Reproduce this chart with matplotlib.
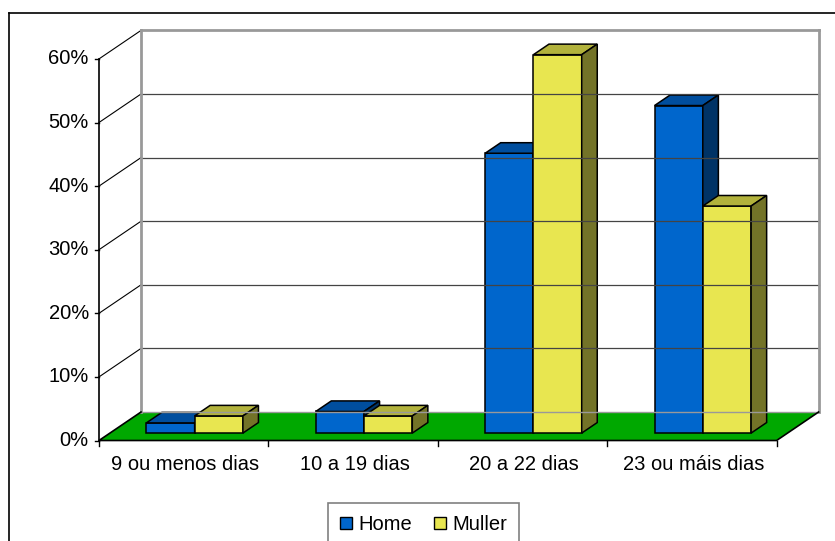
import matplotlib
matplotlib.use("Agg")
import matplotlib.pyplot as plt
from matplotlib.patches import Polygon, Patch
from matplotlib.lines import Line2D

plt.rcParams["font.family"] = ["Liberation Sans", "DejaVu Sans"]

# data (percent)
categories = ["9 ou menos dias", "10 a 19 dias", "20 a 22 dias", "23 ou máis dias"]
series = ["Home", "Muller"]
home = [1.6, 3.4, 44.0, 51.5]
muller = [2.7, 2.7, 59.5, 35.7]
y_ticks = [0, 10, 20, 30, 40, 50, 60]

# colours: front, top, side
face_cols = {
	"Home": ("#0066CC", "#004E9E", "#003366"),
	"Muller": ("#E8E650", "#B2B23C", "#737328"),
}
floor_col = "#00A800"
wall_col = "#999999"

# pseudo-3d geometry (category units / percent units)
DX, DY = 0.248, 4.48       # full depth offset of the walls
D0, D1 = 0.26, 0.63        # bar depth range (fraction of the wall depth)
BW = 0.285                 # bar width per series
FS = 14.5

W, H, DPI = 835, 541, 100
fig = plt.figure(figsize=(W / DPI, H / DPI), dpi=DPI)
ax = fig.add_axes([0, 0, 1, 1])
ax.set_xlim(-99 / 169.4, (W - 99) / 169.4)
ax.set_ylim(-(H - 440.5) / 6.36, 440.5 / 6.36)
ax.axis("off")

n = len(categories)
top = y_ticks[-1]


def proj(x, v, d):
	return x + d * DX, v + d * DY


# side wall gridlines and back wall gridlines
for v in y_ticks[1:]:
	x0, y0 = proj(0, v, 0)
	x1, y1 = proj(0, v, 1)
	ax.plot([x0, x1], [y0, y1], c="black", lw=0.8)
	x2, y2 = proj(n, v, 1)
	if v == top:
		ax.plot([x1, x2], [y1, y2], c=wall_col, lw=2)
	else:
		ax.plot([x1, x2], [y1, y2], c="#444444", lw=0.9)

# back wall vertical edges
for xe in [0, n]:
	xa, ya = proj(xe, 0, 1)
	xb, yb = proj(xe, top, 1)
	ax.plot([xa, xb], [ya, yb], c=wall_col, lw=2)

# floor
floor = [proj(0, 0, 0), proj(n, 0, 0), proj(n, 0, 1), proj(0, 0, 1)]
ax.add_patch(Polygon(floor, closed=True, fc=floor_col, ec="none"))
ax.plot(*zip(proj(0, 0, 1), proj(n, 0, 1)), c=wall_col, lw=1)
ax.plot(*zip(proj(0, 0, 1), proj(0, 0, 0), proj(n, 0, 0), proj(n, 0, 1)),
	c="black", lw=1.2)

# value axis
ax.plot([0, 0], [0, top], c="black", lw=1.2)
for v in y_ticks:
	ax.plot([-0.024, 0], [v, v], c="black", lw=1)
	ax.text(-0.06, v, f"{v}%", ha="right", va="center", fontsize=FS)

# category axis
for i in range(n + 1):
	ax.plot([i, i], [0, -0.8], c="black", lw=1)
for i, cat in enumerate(categories):
	ax.text(i + 0.51, -3.7, cat, ha="center", va="center", fontsize=FS)

# bars, drawn left to right so the right-hand bar covers the side of the left one
for i in range(n):
	for s, (name, vals) in enumerate(zip(series, [home, muller])):
		v = vals[i]
		xl = i + 0.5 - BW + s * BW
		xr = xl + BW
		front_c, top_c, side_c = face_cols[name]
		front = [proj(xl, 0, D0), proj(xr, 0, D0), proj(xr, v, D0), proj(xl, v, D0)]
		tp = [proj(xl, v, D0), proj(xr, v, D0), proj(xr, v, D1), proj(xl, v, D1)]
		side = [proj(xr, 0, D0), proj(xr, 0, D1), proj(xr, v, D1), proj(xr, v, D0)]
		for poly, c in [(front, front_c), (tp, top_c), (side, side_c)]:
			ax.add_patch(Polygon(poly, closed=True, fc=c, ec="black", lw=1.1,
				joinstyle="miter"))

# chart border (top and left visible)
fig.add_artist(Line2D([8.5 / W, 1], [1 - 12.5 / H] * 2, c="black", lw=1.2))
fig.add_artist(Line2D([8.5 / W] * 2, [0, 1 - 12.5 / H], c="black", lw=1.2))

handles = [Patch(fc=face_cols[s][0], ec="black", lw=1) for s in series]
leg = fig.legend(handles, series, ncol=2, loc="upper left",
	bbox_to_anchor=(328 / W, 1 - 503 / H), borderaxespad=0, fontsize=FS,
	frameon=True, fancybox=False, edgecolor="#808080", framealpha=1,
	handlelength=0.6, handleheight=0.6, handletextpad=0.3,
	columnspacing=1.1, borderpad=0.6)
leg.get_frame().set_linewidth(1.2)

fig.savefig("out.png", dpi=DPI)
